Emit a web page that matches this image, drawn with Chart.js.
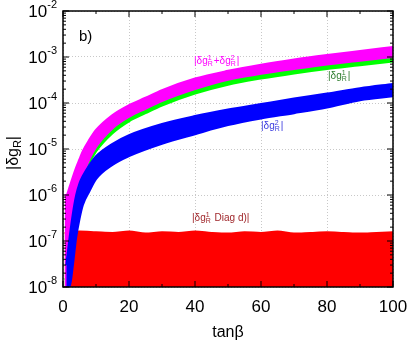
<!DOCTYPE html>
<html>
<head>
<meta charset="utf-8">
<script src="https://cdn.jsdelivr.net/npm/chart.js@4.4.1/dist/chart.umd.min.js"></script>
<style>
  html, body { margin: 0; padding: 0; background: #fff; }
  #wrap { width: 410px; height: 346px; }
</style>
</head>
<body>
<div id="wrap"><canvas id="chart"></canvas></div>
<script>
// Data (band edges of each scatter cloud)
const blueX  = [1, 2, 3, 4, 5, 6, 8, 10, 15, 20, 30, 40, 50, 60, 70, 80, 90, 100];
const blueHi = [3e-8, 1.2e-7, 4e-7, 1e-6, 1.8e-6, 2.6e-6, 4.5e-6, 7e-6, 1.3e-5, 2e-5, 3.5e-5, 5.2e-5, 7.2e-5, 9.5e-5, 1.25e-4, 1.6e-4, 2.1e-4, 2.6e-4];
const blueLo = [1e-8, 1e-8, 3e-8, 1.2e-7, 3e-7, 6e-7, 1.2e-6, 2.2e-6, 4.5e-6, 7e-6, 1.3e-5, 2.1e-5, 3.3e-5, 4.6e-5, 6e-5, 8e-5, 1.15e-4, 1.4e-4];

const magX  = [0.5, 1, 2, 3, 4, 5, 6, 8, 10, 15, 20, 25, 30, 40, 50, 60, 70, 80, 90, 100];
const magHi = [1e-6, 1e-6, 1.5e-6, 2.5e-6, 4e-6, 6e-6, 9e-6, 1.6e-5, 2.6e-5, 5.5e-5, 9e-5, 1.3e-4, 1.9e-4, 3.4e-4, 5e-4, 6.8e-4, 8.8e-4, 1.1e-3, 1.35e-3, 1.65e-3];
const magLo = [1e-8, 1e-8, 3e-8, 2e-7, 8e-7, 1.5e-6, 2.5e-6, 6e-6, 1.1e-5, 2.8e-5, 5e-5, 7.5e-5, 1.1e-4, 2e-4, 3.2e-4, 4.3e-4, 5.5e-4, 6.9e-4, 8.3e-4, 1e-3];

const greenX  = [0.5, 1, 2, 3, 4, 5, 6, 8, 10, 15, 20, 25, 30, 40, 50, 60, 70, 80, 90, 100];
const greenHi = [1.5e-8, 1.5e-8, 4e-8, 2.6e-7, 1e-6, 2e-6, 3.2e-6, 7.5e-6, 1.4e-5, 3.5e-5, 6.2e-5, 9.5e-5, 1.4e-4, 2.5e-4, 4e-4, 5.4e-4, 6.9e-4, 8.6e-4, 1.05e-3, 1.25e-3];
const greenLo = [1e-8, 1e-8, 2e-8, 1.5e-7, 6e-7, 1.2e-6, 2e-6, 4.8e-6, 8.8e-6, 2.2e-5, 4e-5, 6e-5, 8.8e-5, 1.6e-4, 2.5e-4, 3.4e-4, 4.4e-4, 5.5e-4, 6.6e-4, 8e-4];

const redX  = [0.5, 5, 10, 15, 20, 25, 30, 35, 40, 45, 50, 55, 60, 65, 70, 75, 80, 85, 90, 95, 100];
const redHi = [1.5e-7, 1.6e-7, 1.55e-7, 1.5e-7, 1.6e-7, 1.45e-7, 1.55e-7, 1.5e-7, 1.6e-7, 1.5e-7, 1.45e-7, 1.55e-7, 1.5e-7, 1.6e-7, 1.45e-7, 1.5e-7, 1.55e-7, 1.5e-7, 1.45e-7, 1.5e-7, 1.55e-7];
const redLo = [1e-8, 1e-8, 1e-8, 1e-8, 1e-8, 1e-8, 1e-8, 1e-8, 1e-8, 1e-8, 1e-8, 1e-8, 1e-8, 1e-8, 1e-8, 1e-8, 1e-8, 1e-8, 1e-8, 1e-8, 1e-8];

const xTicks = [0, 20, 40, 60, 80, 100];
const yTicks = [1e-8, 1e-7, 1e-6, 1e-5, 1e-4, 1e-3, 1e-2];
const yExps  = ['-8', '-7', '-6', '-5', '-4', '-3', '-2'];

const FONT = '"Liberation Sans", Arial, sans-serif';

function pts(xs, ys) {
  return xs.map((x, i) => ({ x: x, y: ys[i] }));
}

function band(xs, hi, lo, color) {
  const common = { borderColor: color, backgroundColor: color, borderWidth: 2, pointRadius: 0, cubicInterpolationMode: 'monotone' };
  return [
    Object.assign({ data: pts(xs, hi), fill: '+1' }, common),
    Object.assign({ data: pts(xs, lo), fill: false }, common)
  ];
}

// first dataset is drawn on top
const datasets = [].concat(
  band(blueX, blueHi, blueLo, '#0000ff'),
  band(magX, magHi, magLo, '#ff00ff'),
  band(greenX, greenHi, greenLo, '#00ff00'),
  band(redX, redHi, redLo, '#ff0000')
);

// draws |δg^a_R ...| style text, parts: strings or [sup, sub]
function drawScripted(ctx, x, y, parts, size, color) {
  ctx.fillStyle = color;
  ctx.textBaseline = 'middle';
  ctx.textAlign = 'left';
  let cx = x;
  parts.forEach(p => {
    if (typeof p === 'string') {
      ctx.font = size + 'px ' + FONT;
      ctx.fillText(p, cx, y);
      cx += ctx.measureText(p).width;
    } else {
      const s = Math.round(size * 0.65);
      ctx.font = s + 'px ' + FONT;
      const w = Math.max(ctx.measureText(p[0]).width, ctx.measureText(p[1]).width);
      if (p[0]) ctx.fillText(p[0], cx, y - size * 0.3);
      if (p[1]) ctx.fillText(p[1], cx, y + size * 0.3);
      cx += w + 1;
    }
  });
}

const framePlugin = {
  id: 'frame',
  afterDraw(chart) {
    const ctx = chart.ctx;
    const a = chart.chartArea;
    const xs = chart.scales.x, ys = chart.scales.y;
    ctx.save();
    ctx.strokeStyle = '#000';
    ctx.lineWidth = 1.5;
    ctx.strokeRect(a.left, a.top, a.right - a.left, a.bottom - a.top);

    // x ticks, major every 20, minor every 10
    ctx.lineWidth = 1;
    ctx.beginPath();
    for (let v = 0; v <= 100; v += 10) {
      const px = xs.getPixelForValue(v);
      const len = v % 20 === 0 ? 6 : 3;
      ctx.moveTo(px, a.bottom); ctx.lineTo(px, a.bottom - len);
      ctx.moveTo(px, a.top); ctx.lineTo(px, a.top + len);
    }
    // y ticks, decades and minor log ticks
    for (let e = -8; e <= -2; e++) {
      for (let m = 1; m <= 9; m++) {
        const v = m * Math.pow(10, e);
        if (v > 1e-2 * 1.0001) break;
        const py = ys.getPixelForValue(v);
        const len = m === 1 ? 6 : 3;
        ctx.moveTo(a.left, py); ctx.lineTo(a.left + len, py);
        ctx.moveTo(a.right, py); ctx.lineTo(a.right - len, py);
      }
    }
    ctx.stroke();

    // tick labels
    ctx.fillStyle = '#000';
    ctx.font = '17px ' + FONT;
    ctx.textAlign = 'center';
    ctx.textBaseline = 'middle';
    xTicks.forEach(v => ctx.fillText(String(v), xs.getPixelForValue(v), a.bottom + 20));
    yTicks.forEach((v, i) => {
      const py = ys.getPixelForValue(v);
      ctx.font = '11px ' + FONT;
      const ew = ctx.measureText(yExps[i]).width;
      ctx.textAlign = 'right';
      ctx.fillText(yExps[i], a.left - 6, py - 6);
      ctx.font = '17px ' + FONT;
      ctx.fillText('10', a.left - 6 - ew, py + 1);
    });

    // axis titles
    ctx.textAlign = 'center';
    ctx.font = '16px ' + FONT;
    ctx.fillText('tanβ', (a.left + a.right) / 2, 333);
    ctx.save();
    ctx.translate(14, 153);
    ctx.rotate(-Math.PI / 2);
    ctx.font = '16px ' + FONT;
    ctx.textAlign = 'left';
    const w1 = ctx.measureText('|δg').width;
    ctx.font = '11px ' + FONT;
    const w2 = ctx.measureText('R').width;
    ctx.font = '16px ' + FONT;
    const w3 = ctx.measureText('|').width;
    const start = -(w1 + w2 + w3) / 2;
    ctx.fillText('|δg', start, 0);
    ctx.font = '11px ' + FONT;
    ctx.fillText('R', start + w1, 4);
    ctx.font = '16px ' + FONT;
    ctx.fillText('|', start + w1 + w2, 0);
    ctx.restore();

    // panel tag
    ctx.font = '15px ' + FONT;
    ctx.textAlign = 'left';
    ctx.fillText('b)', 79, 37);

    // series labels
    drawScripted(ctx, 194, 61, ['|δg', ['1', 'R'], '+δg', ['2', 'R'], '|'], 10, '#ff00ff');
    drawScripted(ctx, 328, 76, ['|δg', ['1', 'R'], '|'], 10, '#2e7d2e');
    drawScripted(ctx, 261, 126, ['|δg', ['2', 'R'], '|'], 10, '#3a3adf');
    drawScripted(ctx, 192, 218, ['|δg', ['1', 'R'], ' Diag d', ')', '|'], 10, '#a0282c');
    ctx.restore();
  }
};

const ctx = document.getElementById('chart').getContext('2d');
const chart = new Chart(ctx, {
  type: 'line',
  data: { datasets: datasets },
  options: {
    responsive: true,
    maintainAspectRatio: false,
    animation: false,
    layout: { padding: { top: 11, right: 17, left: 0, bottom: 0 } },
    plugins: {
      legend: { display: false },
      tooltip: { enabled: false },
      filler: { drawTime: 'beforeDatasetDraw' }
    },
    scales: {
      x: {
        type: 'linear',
        min: 0,
        max: 100,
        ticks: { display: false },
        grid: { color: '#c8c8c8', drawTicks: false, lineWidth: 1 },
        border: { display: false, dash: [1, 2] },
        afterBuildTicks: s => { s.ticks = xTicks.map(v => ({ value: v })); },
        afterFit: s => { s.height = 59; }
      },
      y: {
        type: 'logarithmic',
        min: 1e-8,
        max: 1e-2,
        ticks: { display: false },
        grid: { color: '#c8c8c8', drawTicks: false, lineWidth: 1 },
        border: { display: false, dash: [1, 2] },
        afterBuildTicks: s => { s.ticks = yTicks.map(v => ({ value: v })); },
        afterFit: s => { s.height = s.height; s.width = 63; }
      }
    }
  },
  plugins: [framePlugin]
});
</script>
</body>
</html>
